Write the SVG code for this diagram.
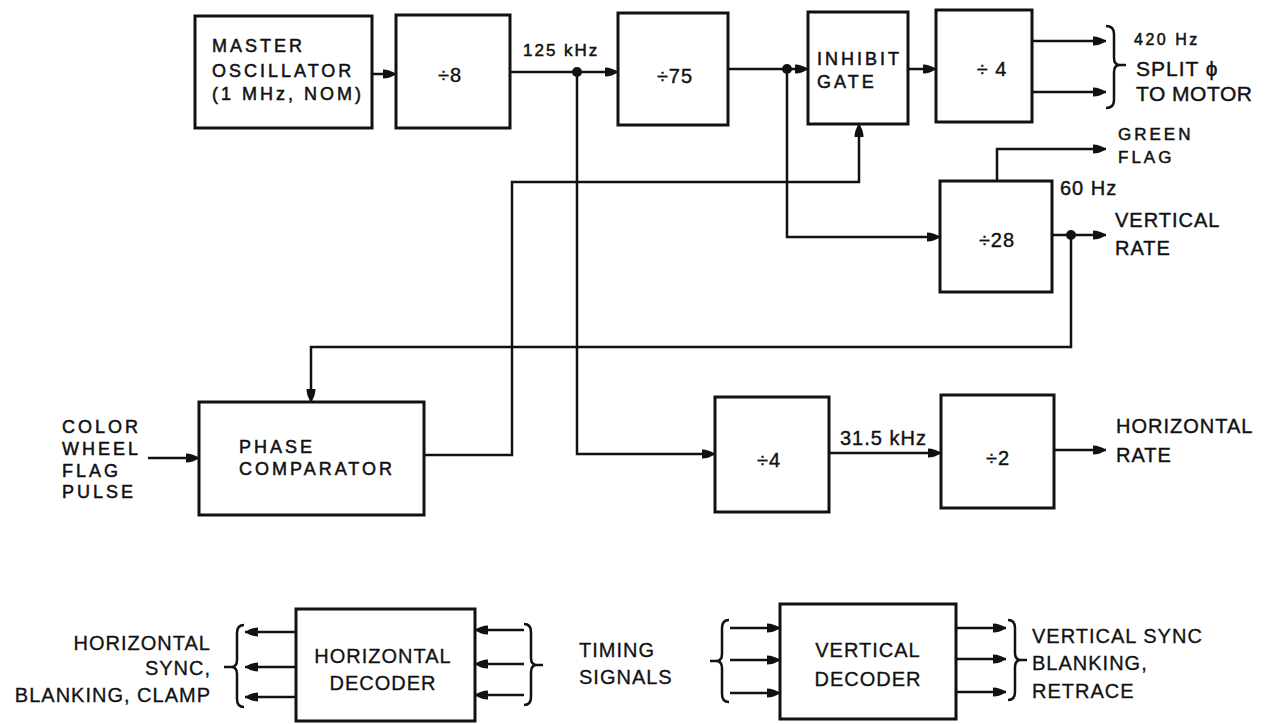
<svg xmlns="http://www.w3.org/2000/svg" width="1265" height="724" viewBox="0 0 1265 724">
<defs>
<style>
.box{fill:#fff;stroke:#111;stroke-width:3}
.ln{fill:none;stroke:#111;stroke-width:2.5}
.ar{fill:none;stroke:#111;stroke-width:2.5;marker-end:url(#ah)}
.dot{fill:#111}
.a{font-family:"Liberation Sans",Arial,sans-serif;font-size:18px;letter-spacing:3px;fill:#111;stroke:#111;stroke-width:0.5}
.b{font-family:"Liberation Sans",Arial,sans-serif;font-size:20px;letter-spacing:1px;fill:#111;stroke:#111;stroke-width:0.4}
.c{font-family:"Liberation Sans",Arial,sans-serif;font-size:20px;letter-spacing:1px;fill:#111;stroke:#111;stroke-width:0.3}
.m{text-anchor:middle}
.r{text-anchor:end}
</style>
<marker id="ah" markerUnits="userSpaceOnUse" markerWidth="15" markerHeight="11" refX="13" refY="5.5" orient="auto">
<path d="M0,1 Q7,1 13,5.5 Q7,10 0,10 Z" fill="#111"/>
</marker>
</defs>
<rect width="1265" height="724" fill="#fff"/>

<g id="connectors">
<line class="ar" x1="372" y1="74" x2="396" y2="74"/>
<line class="ar" x1="510" y1="72" x2="618" y2="72"/>
<circle class="dot" cx="577" cy="72" r="5"/>
<polyline class="ar" points="577,72 577,454 715,454"/>
<line class="ar" x1="728" y1="69" x2="808" y2="69"/>
<circle class="dot" cx="787" cy="69" r="5"/>
<polyline class="ar" points="787,69 787,237 940,237"/>
<line class="ar" x1="908" y1="69" x2="936" y2="69"/>
<line class="ar" x1="1032" y1="41" x2="1106" y2="41"/>
<line class="ar" x1="1032" y1="92" x2="1106" y2="92"/>
<path class="ln" d="M1106,26 Q1114,26 1114,34 L1114,58 Q1114,65 1120,65 Q1114,65 1114,72 L1114,100 Q1114,108 1106,108 M1120,65 L1126,65"/>
<polyline class="ar" points="997,181 997,149 1106,149"/>
<line class="ar" x1="1052" y1="235" x2="1106" y2="235"/>
<circle class="dot" cx="1071" cy="235" r="5"/>
<polyline class="ar" points="1071,235 1071,347 311,347 311,402"/>
<polyline class="ar" points="424,455 512,455 512,182 859,182 859,124"/>
<line class="ar" x1="148" y1="458" x2="199" y2="458"/>
<line class="ar" x1="829" y1="453" x2="941" y2="453"/>
<line class="ar" x1="1054" y1="450" x2="1106" y2="450"/>

<line class="ar" x1="296" y1="632" x2="245" y2="632"/>
<line class="ar" x1="296" y1="667" x2="245" y2="667"/>
<line class="ar" x1="296" y1="697" x2="245" y2="697"/>
<path class="ln" d="M244,625 Q237,625 237,633 L237,660 Q237,667 231,667 Q237,667 237,674 L237,699 Q237,707 244,707 M231,667 L224,667"/>
<line class="ar" x1="524" y1="630" x2="475" y2="630"/>
<line class="ar" x1="524" y1="664" x2="475" y2="664"/>
<line class="ar" x1="524" y1="695" x2="475" y2="695"/>
<path class="ln" d="M524,624 Q531,624 531,632 L531,658 Q531,665 537,665 Q531,665 531,672 L531,697 Q531,705 524,705 M537,665 L543,665"/>

<path class="ln" d="M729,620 Q722,620 722,628 L722,654 Q722,661 716,661 Q722,661 722,668 L722,694 Q722,702 729,702 M716,661 L710,661"/>
<line class="ar" x1="730" y1="628" x2="780" y2="628"/>
<line class="ar" x1="730" y1="660" x2="780" y2="660"/>
<line class="ar" x1="730" y1="693" x2="780" y2="693"/>
<line class="ar" x1="956" y1="628" x2="1006" y2="628"/>
<line class="ar" x1="956" y1="659" x2="1006" y2="659"/>
<line class="ar" x1="956" y1="692" x2="1006" y2="692"/>
<path class="ln" d="M1008,620 Q1015,620 1015,628 L1015,653 Q1015,660 1021,660 Q1015,660 1015,667 L1015,692 Q1015,700 1008,700 M1021,660 L1027,660"/>
</g>

<g id="master">
<rect class="box" x="195" y="16" width="177" height="112"/>
<text class="a" x="212" y="52">MASTER</text>
<text class="a" x="212" y="77">OSCILLATOR</text>
<text class="a" x="212" y="100">(1 MHz, NOM)</text>
</g>
<g id="div8">
<rect class="box" x="396" y="15" width="114" height="113"/>
<text class="b m" x="450" y="82">÷8</text>
</g>
<text class="a" x="523" y="56" style="font-size:17px;letter-spacing:2px">125 kHz</text>
<g id="div75">
<rect class="box" x="618" y="13" width="110" height="112"/>
<text class="b m" x="675" y="83">÷75</text>
</g>
<g id="inhibit">
<rect class="box" x="808" y="12" width="100" height="112"/>
<text class="a" x="817" y="65">INHIBIT</text>
<text class="a" x="817" y="88">GATE</text>
</g>
<g id="div4top">
<rect class="box" x="936" y="10" width="96" height="112"/>
<text class="b m" x="992" y="76">÷ 4</text>
</g>
<text class="a" x="1134" y="45" style="font-size:16px;letter-spacing:2.5px">420 Hz</text>
<text class="b" x="1136" y="76" style="font-size:21px">SPLIT ϕ</text>
<text class="b" x="1136" y="101" style="font-size:21px;letter-spacing:0.5px">TO MOTOR</text>
<text class="a" x="1118" y="140" style="font-size:17px">GREEN</text>
<text class="a" x="1118" y="163" style="font-size:17px">FLAG</text>
<g id="div28">
<rect class="box" x="940" y="181" width="112" height="111"/>
<text class="b m" x="997" y="247">÷28</text>
</g>
<text class="b" x="1060" y="195">60 Hz</text>
<text class="b" x="1115" y="227">VERTICAL</text>
<text class="b" x="1115" y="255">RATE</text>

<g id="phase">
<rect class="box" x="199" y="402" width="225" height="113"/>
<text class="a" x="239" y="453">PHASE</text>
<text class="a" x="239" y="475">COMPARATOR</text>
</g>
<text class="a" x="62" y="433">COLOR</text>
<text class="a" x="62" y="455">WHEEL</text>
<text class="a" x="62" y="477">FLAG</text>
<text class="a" x="62" y="498">PULSE</text>

<g id="div4low">
<rect class="box" x="715" y="397" width="114" height="115"/>
<text class="b m" x="769" y="467">÷4</text>
</g>
<text class="b" x="840" y="445">31.5 kHz</text>
<g id="div2">
<rect class="box" x="941" y="395" width="113" height="113"/>
<text class="b m" x="998" y="465">÷2</text>
</g>
<text class="b" x="1116" y="433">HORIZONTAL</text>
<text class="b" x="1116" y="462">RATE</text>

<g id="hdecoder">
<rect class="box" x="296" y="609" width="179" height="112"/>
<text class="c m" x="383" y="663">HORIZONTAL</text>
<text class="c m" x="383" y="690">DECODER</text>
</g>
<text class="c r" x="211" y="650">HORIZONTAL</text>
<text class="c r" x="211" y="675">SYNC,</text>
<text class="c r" x="211" y="702">BLANKING, CLAMP</text>
<text class="c" x="579" y="657">TIMING</text>
<text class="c" x="579" y="684">SIGNALS</text>

<g id="vdecoder">
<rect class="box" x="780" y="604" width="176" height="115"/>
<text class="c m" x="868" y="657">VERTICAL</text>
<text class="c m" x="868" y="686">DECODER</text>
</g>
<text class="c" x="1032" y="643">VERTICAL SYNC</text>
<text class="c" x="1032" y="670">BLANKING,</text>
<text class="c" x="1032" y="698">RETRACE</text>
</svg>
